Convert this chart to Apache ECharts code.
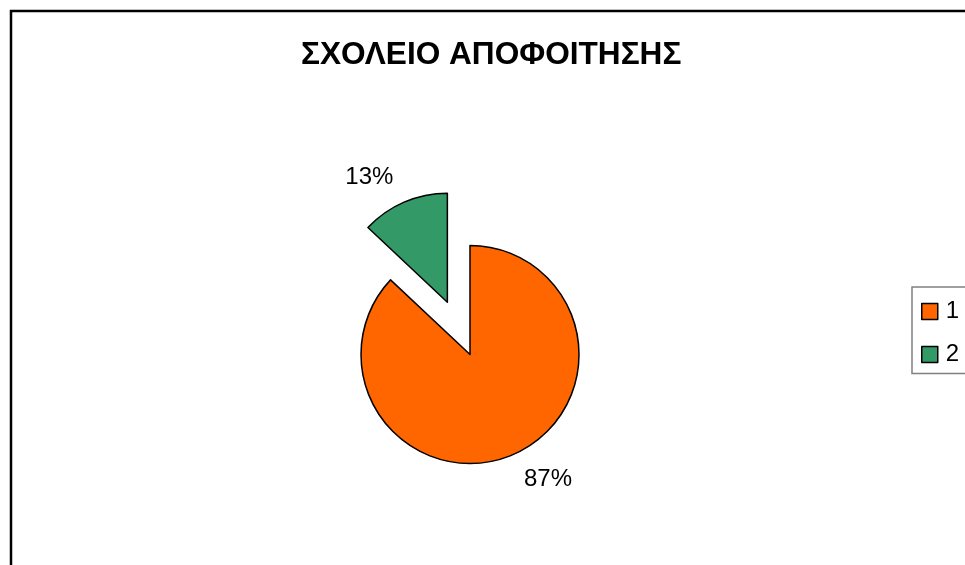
<!DOCTYPE html>
<html>
<head>
<meta charset="utf-8">
<script src="https://cdn.jsdelivr.net/npm/echarts@6/dist/echarts.min.js"></script>
<style>
  html, body { margin: 0; padding: 0; background: #fff; }
  #chart { width: 965px; height: 565px; }
</style>
</head>
<body>
<div id="chart"></div>
<script>
const titleText = 'ΣΧΟΛΕΙΟ ΑΠΟΦΟΙΤΗΣΗΣ';
const categories = ['1', '2'];
const values = [87, 13];
const colors = ['#FF6600', '#339966'];
const explodedIndex = 1;

const FONT = 'Arial, "Liberation Sans", sans-serif';

const chart = echarts.init(document.getElementById('chart'), null, { renderer: 'canvas' });

const data = categories.map((c, i) => ({
  name: c,
  value: values[i],
  selected: i === explodedIndex,
  itemStyle: { color: colors[i] }
}));

chart.setOption({
  animation: false,
  backgroundColor: '#ffffff',
  title: {
    text: titleText,
    left: 301,
    top: 39,
    padding: 0,
    textStyle: { fontFamily: FONT, fontWeight: 'bold', fontSize: 31.6, color: '#000' }
  },
  legend: {
    orient: 'vertical',
    left: 912,
    top: 287,
    data: categories,
    icon: 'rect',
    itemWidth: 16,
    itemHeight: 16,
    itemGap: 19,
    padding: [12.5, 60, 7, 9],
    borderColor: '#808080',
    borderWidth: 1.5,
    selectedMode: false,
    itemStyle: { borderColor: '#000', borderWidth: 1.5 },
    textStyle: { fontFamily: FONT, fontSize: 24, color: '#000', lineHeight: 24, padding: [0, 0, 0, 3] }
  },
  graphic: [{
    type: 'rect',
    shape: { x: 11, y: 11, width: 1200, height: 800 },
    style: { fill: 'none', stroke: '#000', lineWidth: 2.5 },
    silent: true,
    z: 100
  }],
  series: [{
    type: 'pie',
    center: [470, 354.5],
    radius: 109,
    startAngle: 90,
    clockwise: true,
    selectedMode: 'single',
    selectedOffset: 57,
    avoidLabelOverlap: false,
    emphasis: { disabled: true },
    itemStyle: { borderColor: '#000', borderWidth: 1.5 },
    label: {
      show: true,
      position: 'outside',
      formatter: '{d}%',
      fontFamily: FONT,
      fontSize: 24,
      color: '#000',
      distanceToLabelLine: 0
    },
    labelLine: { show: false, length: 27, length2: 0 },
    data: data
  }]
});
</script>
</body>
</html>
